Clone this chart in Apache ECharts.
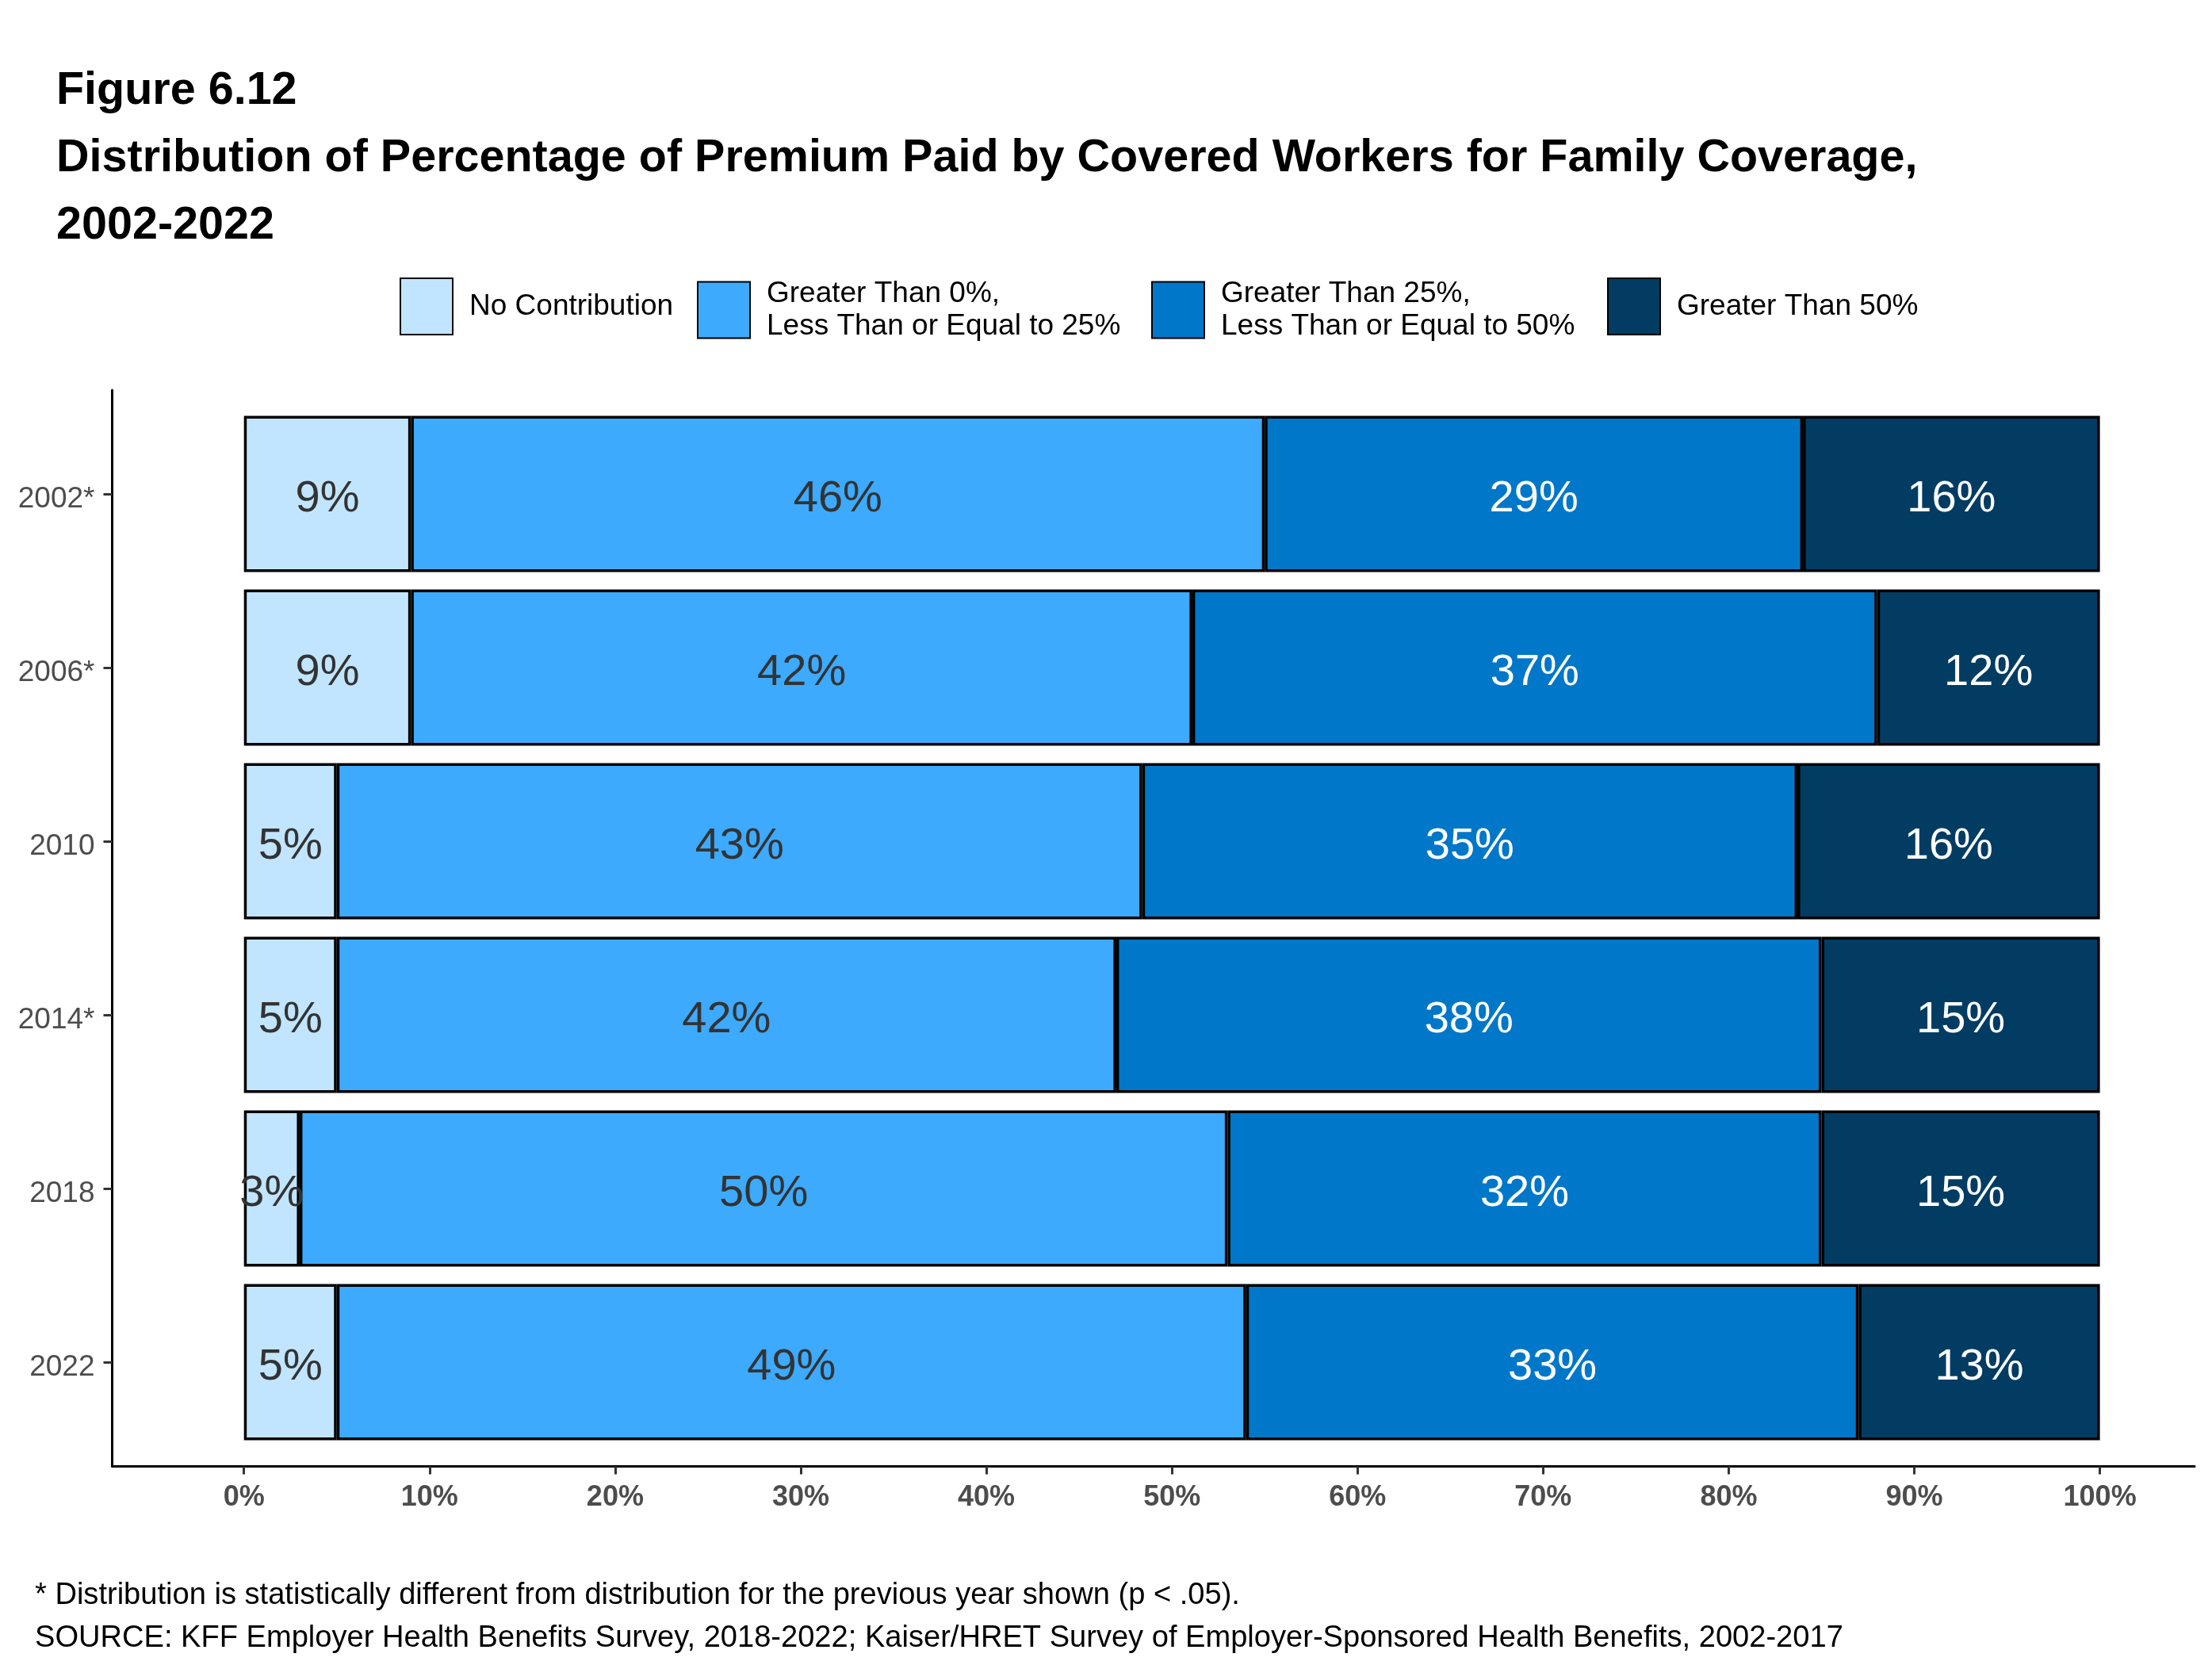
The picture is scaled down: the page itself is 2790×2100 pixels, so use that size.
<!DOCTYPE html>
<html>
<head>
<meta charset="utf-8">
<script src="https://cdn.jsdelivr.net/npm/echarts@6/dist/echarts.min.js"></script>
<style>
html,body{margin:0;padding:0;background:#fff;}
#chart{width:2790px;height:2100px;}
</style>
</head>
<body>
<div id="chart"></div>
<script>
// ---- data ----
const categories = ['2002*', '2006*', '2010', '2014*', '2018', '2022'];
const noContribution = [9, 9, 5, 5, 3, 5];
const upTo25 = [46, 42.1, 43.4, 42, 50, 49];
const upTo50 = [29, 36.9, 35.3, 38, 32, 33];
const over50 = [16, 12, 16.3, 15, 15, 13];
const xTicks = [0, 10, 20, 30, 40, 50, 60, 70, 80, 90, 100];
const seriesNames = [
  'No Contribution',
  'Greater Than 0%,\nLess Than or Equal to 25%',
  'Greater Than 25%,\nLess Than or Equal to 50%',
  'Greater Than 50%'
];
const seriesValues = [noContribution, upTo25, upTo50, over50];
const titleText = 'Figure 6.12\nDistribution of Percentage of Premium Paid by Covered Workers for Family Coverage,\n2002-2022';
const noteText = '* Distribution is statistically different from distribution for the previous year shown (p < .05).\nSOURCE: KFF Employer Health Benefits Survey, 2018-2022; Kaiser/HRET Survey of Employer-Sponsored Health Benefits, 2002-2017';

// ---- styles ----
const FONT = '"Liberation Sans", Arial, sans-serif';
const colors = ['#C1E5FE', '#3DAAFD', '#0077C8', '#023C63'];
const labelColors = ['#333333', '#333333', '#ffffff', '#ffffff'];
const legendLeft = [504, 879, 1452, 2027];
const XMIN = -7.1, XMAX = 105.1;

const chart = echarts.init(document.getElementById('chart'), null, {renderer: 'canvas'});

const option = {
  backgroundColor: '#ffffff',
  animation: false,
  textStyle: {fontFamily: FONT},
  title: [
    {
      text: titleText,
      left: 71, top: 73, padding: 0,
      textStyle: {fontFamily: FONT, fontSize: 57.5, fontWeight: 'bold', color: '#000', lineHeight: 85}
    },
    {
      text: noteText,
      left: 44, top: 1985, padding: 0,
      textStyle: {fontFamily: FONT, fontSize: 38.1, fontWeight: 'normal', color: '#000', lineHeight: 54}
    }
  ],
  legend: seriesNames.map((n, i) => ({
    data: [n],
    left: legendLeft[i], top: 350, padding: 0,
    itemWidth: 66, itemHeight: 71,
    icon: 'rect',
    selectedMode: false,
    textStyle: {fontFamily: FONT, fontSize: 37, color: '#000', lineHeight: 41, padding: [0, 0, 0, 16]}
  })),
  grid: [
    {left: 141.5, right: 22, top: 513.5, height: 1314, containLabel: false},
    {left: 141.5, right: 22, top: 492, height: 1357.5, containLabel: false}
  ],
  xAxis: [
    {
      gridIndex: 0, type: 'value', min: XMIN, max: XMAX,
      axisLine: {show: false, onZero: false}, axisTick: {show: false}, axisLabel: {show: false}, splitLine: {show: false}
    },
    {
      gridIndex: 1, type: 'value', min: XMIN, max: XMAX,
      axisLine: {show: true, onZero: false, lineStyle: {color: '#000', width: 3}},
      axisTick: {show: true, customValues: xTicks, length: 10, lineStyle: {color: '#333', width: 3}},
      axisLabel: {
        show: true, customValues: xTicks, margin: 22,
        formatter: v => v + '%',
        fontFamily: FONT, fontSize: 36, fontWeight: 'bold', color: '#4D4D4D'
      },
      splitLine: {show: false}
    }
  ],
  yAxis: [
    {
      gridIndex: 0, type: 'category', data: categories, inverse: true,
      axisLine: {show: false, onZero: false},
      axisTick: {show: true, alignWithLabel: true, length: 11, lineStyle: {color: '#333', width: 3}},
      axisLabel: {margin: 22, verticalAlign: 'top', lineHeight: 14, fontFamily: FONT, fontSize: 37, color: '#4D4D4D'},
      splitLine: {show: false}
    },
    {
      gridIndex: 1, type: 'value', min: 0, max: 1,
      axisLine: {show: true, onZero: false, lineStyle: {color: '#000', width: 3}},
      axisTick: {show: false}, axisLabel: {show: false}, splitLine: {show: false}
    }
  ],
  series: seriesNames.map((n, i) => ({
    name: n,
    type: 'bar',
    stack: 'total',
    xAxisIndex: 0, yAxisIndex: 0,
    barWidth: '90%',
    data: seriesValues[i],
    itemStyle: {color: colors[i], borderColor: '#000', borderWidth: 3.5},
    label: {
      show: true, position: 'inside', offset: [0, 7],
      formatter: p => Math.round(p.value) + '%',
      fontFamily: FONT, fontSize: 56, color: labelColors[i]
    },
    emphasis: {disabled: true}
  }))
};
chart.setOption(option);
</script>
</body>
</html>
